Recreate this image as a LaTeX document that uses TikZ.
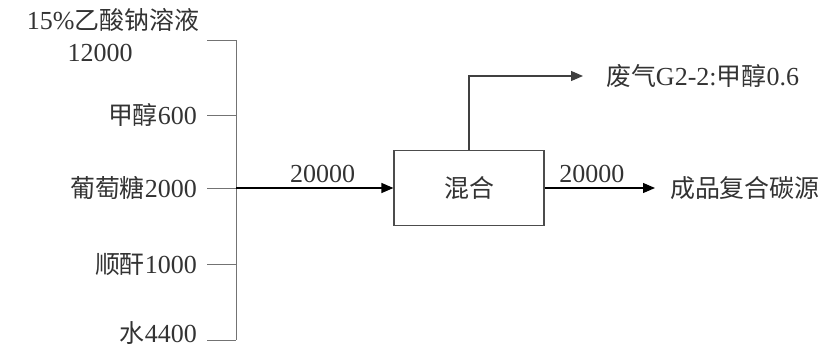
\documentclass[tikz,border=0pt]{standalone}
\usepackage{fontspec}
\setmainfont{Liberation Serif}
\newfontfamily\cjk[Scale=0.96]{Noto Sans CJK SC}
\usetikzlibrary{arrows.meta}

\tikzset{
	flow/.style={line width=0.6pt,-{Triangle[length=6pt,width=5pt]}},
	feed/.style={line width=0.5pt,black!55},
	mixbox/.style={draw,black!70,line width=0.6pt,minimum width=75pt,minimum height=37.5pt,text=black!80},
	lbl/.style={text=black!80}
}

\begin{document}
\begin{tikzpicture}[x=0.5pt,y=-0.5pt,font=\fontsize{13}{15}\selectfont]
	\useasboundingbox (0,0) rectangle (829,348);
	% feeds on the left
	\node[lbl] (naac) at (113,20) {15\%{\cjk 乙酸钠溶液}};
	\node[lbl] (naacq) at (100,53) {12000};
	\node[lbl,anchor=east] (meoh) at (204,115) {{\cjk 甲醇}600};
	\node[lbl,anchor=east] (gluc) at (204,188) {{\cjk 葡萄糖}2000};
	\node[lbl,anchor=east] (mah) at (204,264) {{\cjk 顺酐}1000};
	\node[lbl,anchor=east] (water) at (204,333) {{\cjk 水}4400};
	\coordinate (t1) at (207,40);
	\coordinate (b1) at (236,40);
	\coordinate (b2) at (236,115);
	\coordinate (b3) at (236,188);
	\coordinate (b4) at (236,264);
	\coordinate (b5) at (236,340);
	\draw[feed] (t1) -- (b1) -- (b5);
	\draw[feed] (meoh.east) ++(3,0) -- (b2);
	\draw[feed] (gluc.east) ++(3,0) -- (b3);
	\draw[feed] (mah.east) ++(3,0) -- (b4);
	\draw[feed] (water.east) ++(3,7) -- (b5);
	% mixing
	\node[mixbox] (mix) at (469,188) {\cjk 混合};
	\draw[flow] (b3) -- node[lbl,above=-1pt,xshift=4pt]{20000} (mix.west);
	% outputs
	\coordinate (gasend) at (583,76);
	\coordinate (prodend) at (655,188);
	\draw[flow,black!75] (mix.north) |- (gasend);
	\node[lbl,anchor=west] (gas) at (599,76) {{\cjk 废气}G2-2:{\cjk 甲醇}0.6};
	\draw[flow] (mix.east) -- node[lbl,above=-1pt,xshift=-4pt]{20000} (prodend);
	\node[lbl,anchor=west] (prod) at (663,188) {\cjk 成品复合碳源};
\end{tikzpicture}
\end{document}
